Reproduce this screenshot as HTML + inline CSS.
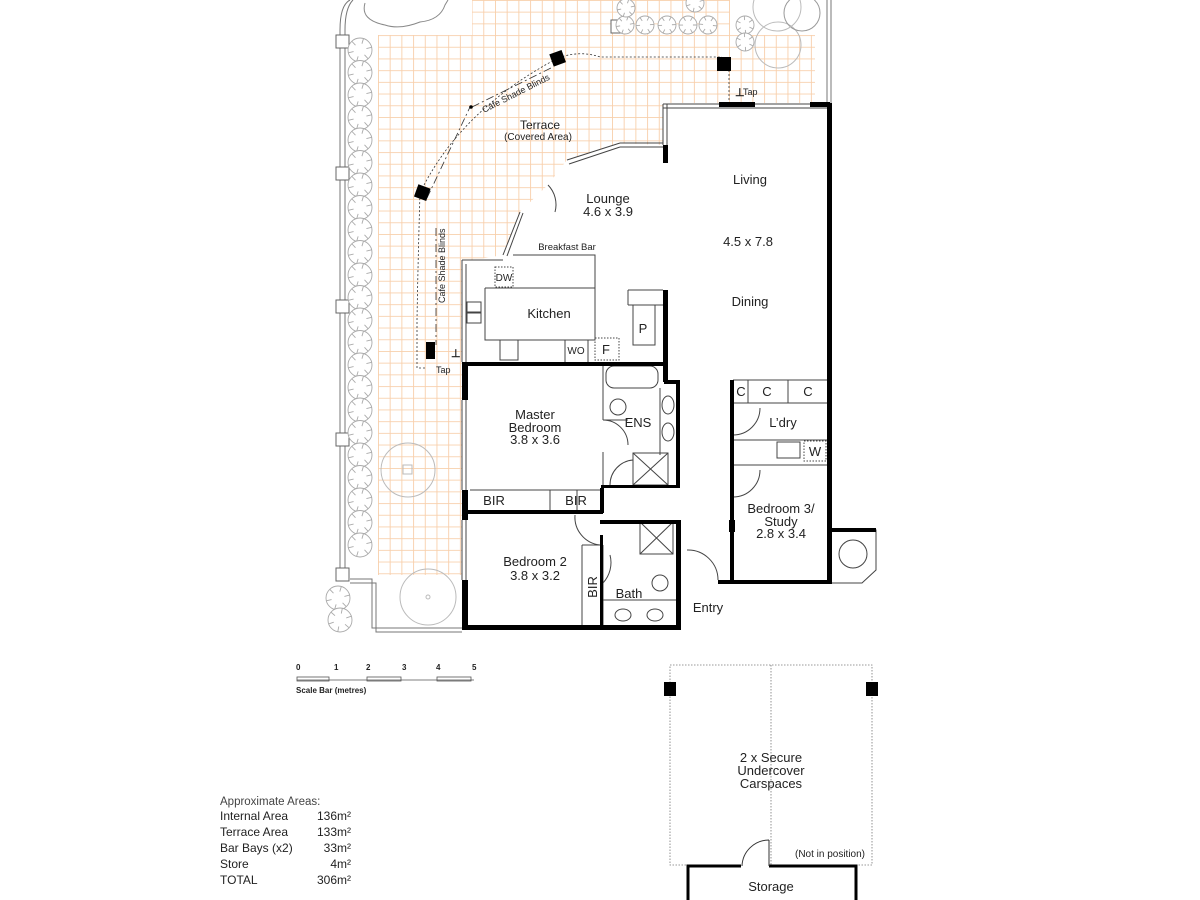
<!DOCTYPE html>
<html><head><meta charset="utf-8">
<style>
html,body{margin:0;padding:0;background:#fff;}
svg{display:block;}
text{font-family:"Liberation Sans",sans-serif;fill:#222;}
.lbl{font-size:13px;text-anchor:middle;}
.sm{font-size:9px;}
.ar{font-family:"Liberation Sans Narrow","Liberation Sans",sans-serif;font-size:12px;}
</style></head>
<body>
<svg id="s" width="1200" height="900" viewBox="0 0 1200 900" xmlns="http://www.w3.org/2000/svg">
<defs>
<pattern id="g" x="378" y="0" width="11.7" height="11.7" patternUnits="userSpaceOnUse">
<path d="M0 0V11.7M0 0H11.7" stroke="#f8cfab" stroke-width="1.8" fill="none"/>
</pattern>
</defs>
<polygon fill="url(#g)" points="472,0 730,0 730,35 815,35 815,103 663,103 663,145 620,143 567,160 548,185 520,212 503,255 462,262 462,575 378,575 378,35 472,35"/>

<g stroke="#777" fill="none" stroke-width="1">
<path d="M340,575 V30 Q340,5 350,0"/><path d="M345,575 V30 Q345,8 353,0"/>
<path d="M827,0 V103"/><path d="M831,0 V103"/>
<path d="M350,579 H372 V628 H462"/><path d="M350,583 H376 V632 H462"/>
</g>
<g fill="#fff" stroke="#666">
<rect x="336" y="35" width="13" height="13"/><rect x="336" y="167" width="13" height="13"/>
<rect x="336" y="300" width="13" height="13"/><rect x="336" y="433" width="13" height="13"/>
<rect x="336" y="568" width="13" height="13"/><rect x="611" y="20" width="13" height="13"/>
</g>
<g id="trees" stroke="#aaa" fill="#fff" stroke-width="0.9"></g>
<g stroke="#bbb" fill="none">
<circle cx="778" cy="45" r="23"/><circle cx="802" cy="13" r="18" stroke="#999"/><circle cx="777" cy="7" r="24"/>
<circle cx="408" cy="470" r="27"/><rect x="403" y="465" width="9" height="9"/>
<circle cx="428" cy="597" r="28"/><circle cx="428" cy="597" r="2"/>
<path d="M365,3 Q360,20 385,25 Q400,30 420,22 Q440,20 445,5 L448,0" stroke="#888"/>
</g>

<g stroke="#333" fill="none" stroke-width="0.8">
<path d="M425,368 H417 V320 Q418,260 420,193 Q460,110 558,58 Q580,50 600,57 H722" stroke-dasharray="2,2"/>
<path d="M436,228 V345" stroke-dasharray="8,3,2,3"/>
<path d="M472,107 L553,67" stroke-dasharray="8,3,2,3"/>
<path d="M427,198 L470,107" stroke-dasharray="8,3,2,3"/>
<path d="M729,70 V100" stroke-dasharray="2,2"/>
</g>
<g fill="#000">
<rect x="551" y="52" width="13" height="13" transform="rotate(-20 557 58)"/>
<rect x="717" y="57" width="14" height="14"/>
<rect x="416" y="186" width="13" height="13" transform="rotate(20 422 192)"/>
<rect x="426" y="342" width="9" height="17"/>
<circle cx="471" cy="107" r="1.8"/>
</g>
<text x="0" y="0" class="sm" transform="translate(484,113) rotate(-27)">Cafe Shade Blinds</text>
<text x="0" y="0" class="sm" transform="translate(445,303) rotate(-90)">Cafe Shade Blinds</text>
<text x="743" y="95" class="sm">Tap</text><text x="436" y="373" class="sm">Tap</text>
<text x="735" y="96" style="font-size:11px;font-weight:bold">⊥</text>
<text x="451" y="357" style="font-size:11px;font-weight:bold">⊥</text>

<polygon fill="#fff" points="663,103 830,103 830,583 733,583 733,580 680,580 680,628 465,628 465,260 503,258 520,212 548,185 567,160 620,143 663,148"/>

<g stroke="#444" fill="none" stroke-width="1">
<path d="M663,104 H830"/><path d="M663,108 H830"/>
<path d="M663,104 V145"/><path d="M667,104 V145"/>
<path d="M620,143 H663"/><path d="M620,147 H663"/>
<path d="M567,160 L620,143"/><path d="M569,164 L620,147"/>
<path d="M503,255 L520,212"/><path d="M507,256 L523,213"/>
<path d="M462,260 V362"/><path d="M466,264 V362"/><path d="M462,260 H503"/>
<path d="M462,400 V490"/><path d="M466,400 V490"/><path d="M462,520 V580"/><path d="M466,520 V580"/>
<path d="M485,288 H595 V255 H513"/><path d="M485,288 V340 H595 V288"/>
<path d="M628,290 H663 M628,290 V305 M628,305 H663 M633,305 V345 H655 V305"/>
<rect x="495" y="267" width="18" height="20" stroke-dasharray="1.5,1.5"/>
<rect x="595" y="338" width="24" height="22" stroke-dasharray="1.5,1.5"/>
<rect x="500" y="340" width="18" height="20"/>
<path d="M565,340 V362 M588,340 V362"/>
<rect x="467" y="302" width="14" height="10"/><rect x="467" y="313" width="14" height="10"/>
<path d="M470,490 H603 M550,490 V513 M577,490 V513"/>
<path d="M603,362 V420 M603,452 V490 M603,420 H628"/>
<rect x="606" y="366" width="52" height="22" rx="8"/>
<path d="M660,388 V455"/><ellipse cx="668" cy="405" rx="6" ry="9"/><ellipse cx="668" cy="432" rx="6" ry="9"/>
<ellipse cx="618" cy="407" rx="8" ry="8"/>
<rect x="633" y="453" width="35" height="32"/><path d="M633,453 L668,485 M668,453 L633,485"/>
<path d="M603,420 A25,25 0 0 1 628,445"/>
<path d="M633,460 A25,25 0 0 0 610,485"/>
<rect x="640" y="522" width="33" height="32"/><path d="M640,522 L673,554 M673,522 L640,554"/>
<path d="M582,545 V625 M582,545 H602 M603,545 V625"/>
<path d="M603,600 H680"/><ellipse cx="623" cy="615" rx="8" ry="6"/><ellipse cx="655" cy="615" rx="8" ry="6"/>
<ellipse cx="660" cy="583" rx="8" ry="8"/>
<path d="M575,515 A28,28 0 0 0 600,545"/>
<path d="M610,555 A30,30 0 0 1 603,583"/>
<path d="M687,550 A30,30 0 0 1 718,580"/>
<path d="M733,380 H830 M733,403 H830 M748,380 V403 M788,380 V403"/>
<path d="M733,440 H830 M733,465 H830"/>
<rect x="777" y="442" width="23" height="16"/><rect x="804" y="441" width="22" height="20" stroke-dasharray="1.5,1.5"/>
<path d="M760,408 A27,27 0 0 1 733,435"/>
<path d="M760,470 A27,27 0 0 1 733,497"/>
<path d="M548,185 A28,28 0 0 1 555,212"/>
<path d="M832,530 H876 V570 L862,583 H832"/><circle cx="853" cy="554" r="14"/>
</g>

<g fill="#000">
<rect x="827" y="103" width="5" height="480"/>
<rect x="719" y="102" width="36" height="5"/><rect x="810" y="102" width="20" height="5"/>
<rect x="663" y="145" width="5" height="18"/>
<rect x="663" y="290" width="5" height="92"/>
<rect x="462" y="362" width="205" height="4"/>
<rect x="462" y="362" width="6" height="38"/><rect x="462" y="490" width="6" height="30"/><rect x="462" y="580" width="6" height="50"/>
<rect x="462" y="625" width="218" height="5"/>
<rect x="466" y="510" width="137" height="4"/>
<rect x="664" y="380" width="16" height="4"/><rect x="676" y="380" width="4" height="105"/><rect x="601" y="485" width="79" height="3"/>
<rect x="600" y="488" width="4" height="25"/>
<rect x="600" y="520" width="80" height="4"/><rect x="676" y="520" width="5" height="60"/>
<rect x="600" y="535" width="3" height="95"/>
<rect x="676" y="580" width="5" height="50"/>
<rect x="730" y="380" width="4" height="203"/><rect x="729" y="520" width="6" height="12"/>
<rect x="718" y="580" width="114" height="4"/>
<rect x="830" y="528" width="46" height="4"/>
</g>

<text x="540" y="129" class="lbl" style="font-size:12px">Terrace</text>
<text x="538" y="140" class="lbl" style="font-size:10px">(Covered Area)</text>
<text x="608" y="203" class="lbl">Lounge</text><text x="608" y="216" class="lbl">4.6 x 3.9</text>
<text x="750" y="184" class="lbl">Living</text><text x="748" y="246" class="lbl">4.5 x 7.8</text>
<text x="750" y="306" class="lbl">Dining</text>
<text x="567" y="250" class="lbl" style="font-size:9.5px">Breakfast Bar</text>
<text x="504" y="281" class="lbl" style="font-size:10px">DW</text>
<text x="549" y="318" class="lbl">Kitchen</text>
<text x="576" y="354" class="lbl" style="font-size:10px">WO</text>
<text x="606" y="354" class="lbl">F</text><text x="643" y="333" class="lbl">P</text>
<text x="535" y="419" class="lbl">Master</text><text x="535" y="432" class="lbl">Bedroom</text><text x="535" y="444" class="lbl">3.8 x 3.6</text>
<text x="638" y="427" class="lbl">ENS</text>
<text x="494" y="505" class="lbl">BIR</text><text x="576" y="505" class="lbl">BIR</text>
<text x="535" y="566" class="lbl">Bedroom 2</text><text x="535" y="580" class="lbl">3.8 x 3.2</text>
<text x="0" y="0" class="lbl" transform="translate(597,587) rotate(-90)">BIR</text>
<text x="629" y="598" class="lbl">Bath</text>
<text x="708" y="612" class="lbl">Entry</text>
<text x="741" y="396" class="lbl">C</text><text x="767" y="396" class="lbl">C</text><text x="808" y="396" class="lbl">C</text>
<text x="783" y="427" class="lbl">L’dry</text><text x="815" y="456" class="lbl">W</text>
<text x="781" y="513" class="lbl">Bedroom 3/</text><text x="781" y="526" class="lbl">Study</text><text x="781" y="538" class="lbl">2.8 x 3.4</text>

<g style="font-size:8px;font-weight:bold">
<text x="296" y="670">0</text><text x="334" y="670">1</text><text x="366" y="670">2</text><text x="402" y="670">3</text><text x="436" y="670">4</text><text x="472" y="670">5</text>
<text x="296" y="693">Scale Bar (metres)</text>
</g>
<g stroke="#555" fill="none" stroke-width="0.8">
<path d="M297,680 H474"/><rect x="297" y="677" width="32" height="4"/><rect x="367" y="677" width="34" height="4"/><rect x="437" y="677" width="34" height="4"/>
</g>
<g class="ar">
<text x="220" y="805" style="font-size:11.5px;fill:#444">Approximate Areas:</text>
<text x="220" y="820">Internal Area</text><text x="351" y="820" text-anchor="end">136m²</text>
<text x="220" y="836">Terrace Area</text><text x="351" y="836" text-anchor="end">133m²</text>
<text x="220" y="852">Bar Bays (x2)</text><text x="351" y="852" text-anchor="end">33m²</text>
<text x="220" y="868">Store</text><text x="351" y="868" text-anchor="end">4m²</text>
<text x="220" y="884">TOTAL</text><text x="351" y="884" text-anchor="end">306m²</text>
</g>

<g stroke="#777" fill="none" stroke-width="0.8" stroke-dasharray="1.5,1.5">
<rect x="670" y="665" width="202" height="200"/><path d="M771,665 V865"/>
</g>
<rect x="664" y="682" width="12" height="14" fill="#000"/><rect x="866" y="682" width="12" height="14" fill="#000"/>
<rect x="688" y="866" width="168" height="40" fill="#fff" stroke="#000" stroke-width="3"/>
<rect x="741" y="862" width="28" height="7" fill="#fff"/>
<path d="M769,840 V866 M769,840 A27,27 0 0 0 742,866" stroke="#333" fill="none"/>
<text x="771" y="762" class="lbl">2 x Secure</text><text x="771" y="775" class="lbl">Undercover</text><text x="771" y="788" class="lbl">Carspaces</text>
<text x="830" y="857" class="lbl" style="font-size:10px">(Not in position)</text>
<text x="771" y="891" class="lbl">Storage</text>
</svg>
<script>
var g=document.getElementById('trees'),ns='http://www.w3.org/2000/svg';
function tree(x,y,r){var c=document.createElementNS(ns,'circle');c.setAttribute('cx',x);c.setAttribute('cy',y);c.setAttribute('r',r);g.appendChild(c);
for(var i=0;i<6;i++){var a=i*1.05+x,l=document.createElementNS(ns,'line');l.setAttribute('x1',x+Math.cos(a)*r*0.55);l.setAttribute('y1',y+Math.sin(a)*r*0.55);l.setAttribute('x2',x+Math.cos(a)*r);l.setAttribute('y2',y+Math.sin(a)*r);g.appendChild(l);}}
for(var y=50;y<=560;y+=22.5)tree(360,y,12);
[[625,25],[645,25],[667,25],[688,25],[708,25],[626,8],[745,25],[745,42],[695,3]].forEach(function(p){tree(p[0],p[1],9);});
tree(338,598,12);tree(340,620,12);
</script>
</body></html>
